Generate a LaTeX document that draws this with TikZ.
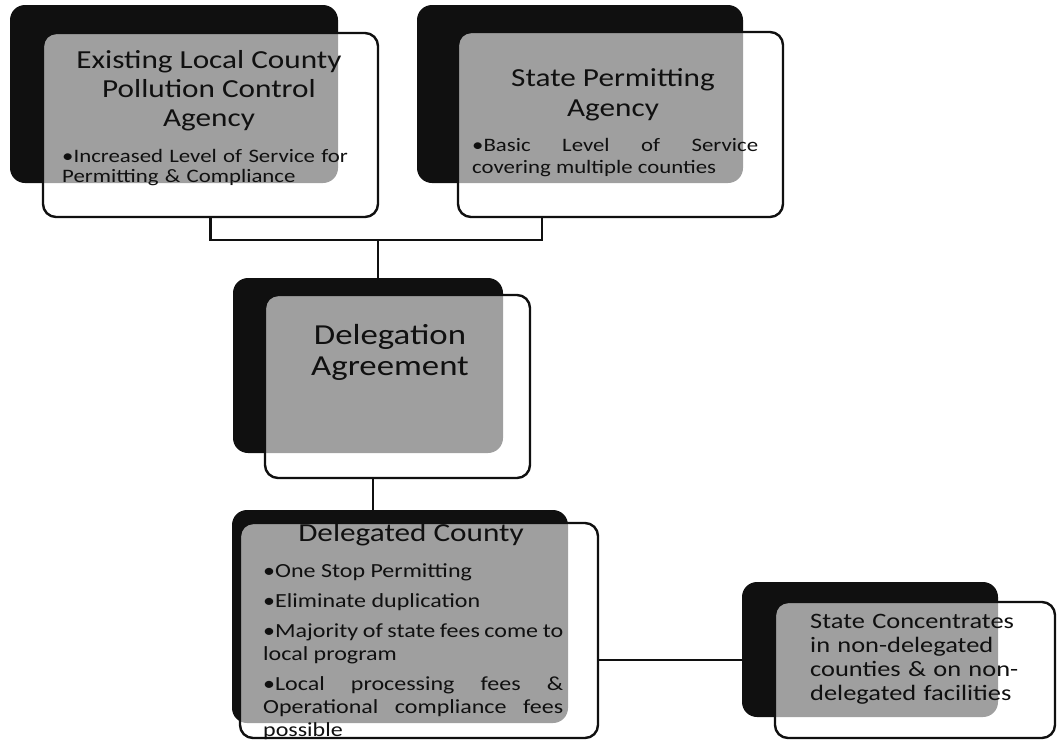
\documentclass[tikz,border=0pt]{standalone}
\usepackage{fontspec}
\setmainfont{Carlito}[FakeStretch=1.2]
\usepackage{tikz}
\usetikzlibrary{positioning,calc}
\definecolor{ink}{HTML}{101010}
\tikzset{
  backbox/.style={fill=ink,rounded corners=15pt,inner sep=0pt},
  cardbox/.style={draw=ink,line width=2.4pt,fill=white,fill opacity=0.6,
                  rounded corners=13pt,inner sep=0pt},
  headtext/.style={align=center,inner sep=0pt,text=ink},
  bodytext/.style={inner sep=0pt,text=ink,anchor=north west},
  linkline/.style={draw=ink,line width=2.6pt}
}

\begin{document}
\begin{tikzpicture}[x=1pt,y=-1pt]
  \useasboundingbox (0,0) rectangle (1057,742);
  % shadow cards and front cards
  \node[backbox,minimum width=328,minimum height=178] (lcaBack) at (174,94) {};
  \node[cardbox,minimum width=335,minimum height=184] (lca) at (210.5,125) {};
  \node[backbox,minimum width=326,minimum height=178] (spaBack) at (580,94) {};
  \node[cardbox,minimum width=325,minimum height=185] (spa) at (620.5,124.5) {};
  \node[backbox,minimum width=270,minimum height=175] (daBack) at (368,365.5) {};
  \node[cardbox,minimum width=265,minimum height=183] (da) at (397.5,386.5) {};
  \node[backbox,minimum width=336,minimum height=213] (dcBack) at (400,616.5) {};
  \node[cardbox,minimum width=358,minimum height=215] (dc) at (419,630.5) {};
  \node[backbox,minimum width=256,minimum height=135] (scBack) at (870,649.5) {};
  \node[cardbox,minimum width=280,minimum height=136] (sc) at (915,670) {};
  % connectors
  \coordinate (jr) at (542,240);
  \coordinate (jm) at (378,240);
  \coordinate (jd) at (373,0);
  \coordinate (jc) at (0,660);
  \draw[linkline] (lca.south) |- (jr) -- (jr |- spa.south);
  \draw[linkline] (jm) -- (jm |- daBack.north);
  \draw[linkline] (jd |- da.south) -- (jd |- dcBack.north);
  \draw[linkline] (jc -| dc.east) -- (jc -| scBack.west);
  % texts
  \node[headtext,font=\fontsize{26}{29}\selectfont] (lcaTitle) at (209,91)
    {Existing Local County\\Pollution Control\\Agency};
  \node[bodytext,text width=300,align=left,font=\fontsize{19}{20}\selectfont] (lcaText) at (62,149)
    {\textbullet Increased Level of Service for\\Permitting \& Compliance};
  \node[headtext,font=\fontsize{26}{30}\selectfont] (spaTitle) at (613,95)
    {State Permitting\\Agency};
  \node[bodytext,text width=286,align=justify,font=\fontsize{19}{22}\selectfont] (spaText) at (472,138)
    {\textbullet Basic Level of Service\linebreak covering multiple counties};
  \node[headtext,font=\fontsize{29}{31}\selectfont] (daTitle) at (390,352)
    {Delegation\\Agreement};
  \node[headtext,font=\fontsize{26}{29}\selectfont] (dcTitle) at (411,535)
    {Delegated County};
  \node[bodytext,text width=300,align=justify,font=\fontsize{20}{23}\selectfont] (dcText) at (263,563)
    {\textbullet One Stop Permitting\\[7pt]
     \textbullet Eliminate duplication\\[7pt]
     \textbullet Majority of state fees come to\\local program\\[7pt]
     \textbullet Local processing fees \&\linebreak Operational compliance fees\linebreak possible};
  \node[bodytext,text width=230,align=left,font=\fontsize{22}{24}\selectfont] (scText) at (810,614)
    {State Concentrates\\in non-delegated\\counties \& on non-\\delegated facilities};
\end{tikzpicture}
\end{document}
